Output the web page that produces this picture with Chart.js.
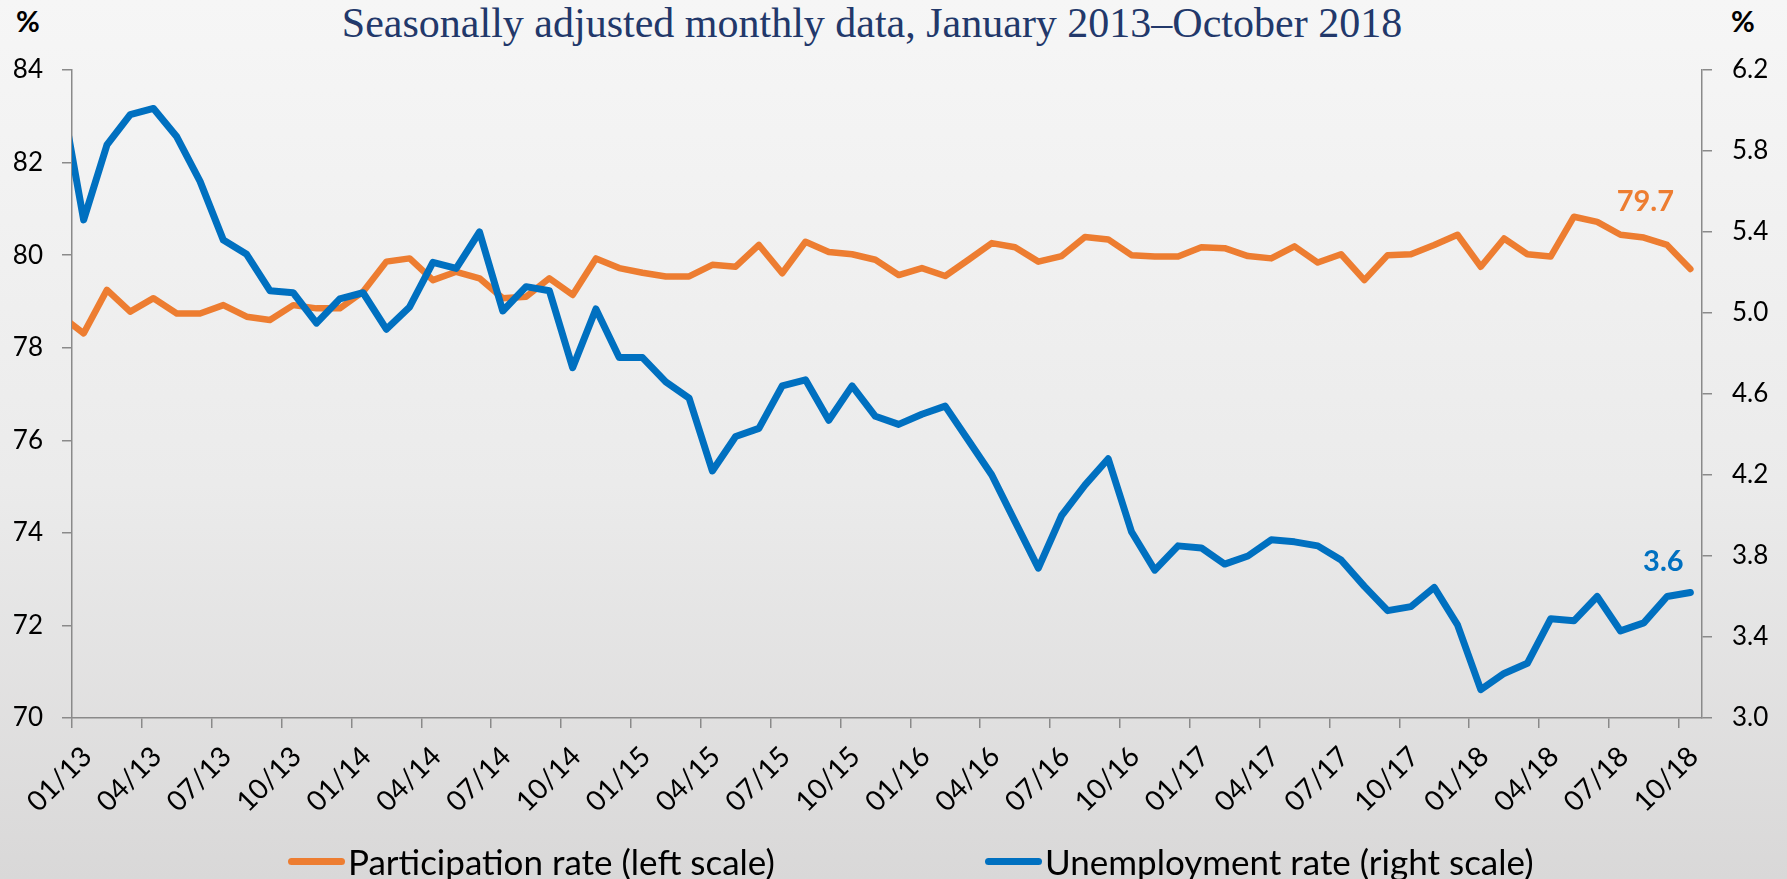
<!DOCTYPE html>
<html>
<head>
<meta charset="utf-8">
<script src="https://cdn.jsdelivr.net/npm/chart.js@4.4.1/dist/chart.umd.min.js"></script>
<style>
  html, body { margin: 0; padding: 0; }
  body {
    width: 1787px; height: 879px; overflow: hidden; position: relative;
    background: linear-gradient(to bottom, #f6f6f6 0%, #ebebeb 55%, #d9d8d8 100%);
    font-family: Lato, sans-serif; color: #000;
  }
  #chart { position: absolute; left: 0; top: 0; }
  .title {
    position: absolute; top: 0px; left: 0; width: 1744px; text-align: center;
    font-family: 'Liberation Serif', serif; font-size: 42px; line-height: 46px; color: #22386a;
  }
  .pct { position: absolute; top: 6px; font-weight: bold; font-size: 29px; line-height: 29px; }
  .legend-item { position: absolute; top: 840px; display: flex; align-items: center; font-size: 35px; line-height: 42px; }
  .legend-item span.swatch { display: inline-block; width: 57px; height: 7px; border-radius: 4px; margin-right: 3px; }
</style>
</head>
<body>
<div class="title">Seasonally adjusted monthly data, January 2013–October 2018</div>
<div class="pct" style="left:16px">%</div>
<div class="pct" style="left:1731px">%</div>
<canvas id="chart" width="1787" height="879"></canvas>
<div class="legend-item" id="leg0" style="left:288px"></div>
<div class="legend-item" id="leg1" style="left:985px"></div>
<script>
// months plotted (Dec 2012 sits just left of the axis and is clipped, as in the original)
let months = [
  '12/12',
  '01/13', '02/13', '03/13', '04/13', '05/13', '06/13', '07/13', '08/13', '09/13', '10/13', '11/13', '12/13',
  '01/14', '02/14', '03/14', '04/14', '05/14', '06/14', '07/14', '08/14', '09/14', '10/14', '11/14', '12/14',
  '01/15', '02/15', '03/15', '04/15', '05/15', '06/15', '07/15', '08/15', '09/15', '10/15', '11/15', '12/15',
  '01/16', '02/16', '03/16', '04/16', '05/16', '06/16', '07/16', '08/16', '09/16', '10/16', '11/16', '12/16',
  '01/17', '02/17', '03/17', '04/17', '05/17', '06/17', '07/17', '08/17', '09/17', '10/17', '11/17', '12/17',
  '01/18', '02/18', '03/18', '04/18', '05/18', '06/18', '07/18', '08/18', '09/18', '10/18'
];

let tickLabels = [
  '01/13', '04/13', '07/13', '10/13', '01/14', '04/14', '07/14', '10/14',
  '01/15', '04/15', '07/15', '10/15', '01/16', '04/16', '07/16', '10/16',
  '01/17', '04/17', '07/17', '10/17', '01/18', '04/18', '07/18', '10/18'
];

let participation = [
  78.7,
  78.31, 79.25, 78.78, 79.07, 78.74, 78.74, 78.92, 78.67, 78.60, 78.92, 78.85, 78.85,
  79.21, 79.86, 79.93, 79.46, 79.64, 79.50, 79.07, 79.10, 79.50, 79.14, 79.93, 79.72,
  79.62, 79.54, 79.54, 79.79, 79.75, 80.22, 79.61, 80.29, 80.07, 80.02, 79.90, 79.57,
  79.72, 79.55, 79.90, 80.26, 80.17, 79.86, 79.98, 80.39, 80.34, 80.00, 79.97, 79.97,
  80.17, 80.15, 79.98, 79.93, 80.19, 79.84, 80.02, 79.46, 80.00, 80.02, 80.22, 80.44,
  79.75, 80.36, 80.02, 79.97, 80.83, 80.72, 80.44, 80.38, 80.22, 79.70
];

let unemployment = [
  6.10,
  5.46, 5.83, 5.98, 6.01, 5.87, 5.65, 5.36, 5.29, 5.11, 5.10, 4.95, 5.07,
  5.10, 4.92, 5.03, 5.25, 5.22, 5.40, 5.01, 5.13, 5.11, 4.73, 5.02, 4.78,
  4.78, 4.66, 4.58, 4.22, 4.39, 4.43, 4.64, 4.67, 4.47, 4.64, 4.49, 4.45,
  4.50, 4.54, 4.37, 4.20, 3.97, 3.74, 4.00, 4.15, 4.28, 3.92, 3.73, 3.85,
  3.84, 3.76, 3.80, 3.88, 3.87, 3.85, 3.78, 3.65, 3.53, 3.55, 3.645, 3.46,
  3.14, 3.22, 3.27, 3.49, 3.48, 3.60, 3.43, 3.47, 3.60, 3.62
];

let seriesNames = ['Participation rate (left scale)', 'Unemployment rate (right scale)'];
let seriesColors = ['#ed7d31', '#0070c0'];

// each month is plotted at its middle, x = 0 is the start of 01/13
function toPoints(values) {
  return values.map((v, i) => ({ x: i - 0.5, y: v, month: months[i] }));
}

/*value labels at the end of each line*/
let endLabels = {
  id: 'endLabels',
  afterDatasetsDraw(chart) {
    let offsets = [[-45, -67], [-27, -31]];
    let ctx = chart.ctx;
    chart.data.datasets.forEach(function(ds, i) {
      let meta = chart.getDatasetMeta(i);
      let last = meta.data[meta.data.length - 1];
      let value = ds.data[ds.data.length - 1].y;
      ctx.save();
      ctx.font = 'bold 29px Lato';
      ctx.fillStyle = ds.borderColor;
      ctx.textAlign = 'center';
      ctx.textBaseline = 'middle';
      ctx.fillText(value.toFixed(1), last.x + offsets[i][0], last.y + offsets[i][1]);
      ctx.restore();
    });
  }
};

let axisColor = '#8a8a8a';
let tickFont = { family: 'Lato', size: 26 };

let chart = new Chart(document.getElementById('chart'), {
  type: 'line',
  data: {
    datasets: [{
      label: seriesNames[0],
      data: toPoints(participation),
      borderColor: seriesColors[0],
      backgroundColor: seriesColors[0],
      borderWidth: 6.5,
      pointRadius: 0,
      borderJoinStyle: 'round',
      borderCapStyle: 'round',
      yAxisID: 'yL',
      clip: 0,
      order: 2
    }, {
      label: seriesNames[1],
      data: toPoints(unemployment),
      borderColor: seriesColors[1],
      backgroundColor: seriesColors[1],
      borderWidth: 7,
      pointRadius: 0,
      borderJoinStyle: 'round',
      borderCapStyle: 'round',
      yAxisID: 'yR',
      clip: 0,
      order: 1
    }]
  },
  options: {
    responsive: false,
    animation: false,
    layout: { padding: { top: 70, left: 0, right: 0, bottom: 0 } },
    plugins: {
      legend: { display: false },
      tooltip: { enabled: false }
    },
    scales: {
      x: {
        type: 'linear',
        min: 0,
        max: 70,
        afterBuildTicks: function(axis) {
          axis.ticks = tickLabels.map((t, k) => ({ value: k * 3 }));
        },
        afterFit: function(axis) { axis.height = 161; },
        border: { display: true, color: axisColor, width: 1.5 },
        grid: { drawOnChartArea: false, tickLength: 10, color: axisColor, lineWidth: 1.5 },
        ticks: {
          autoSkip: false,
          minRotation: 45,
          maxRotation: 45,
          padding: 12,
          labelOffset: 15,
          color: '#000',
          font: { family: 'Lato', size: 28 },
          callback: function(value, index) { return tickLabels[index]; }
        }
      },
      yL: {
        position: 'left',
        min: 70,
        max: 84,
        afterFit: function(axis) { axis.width = 72; },
        border: { display: true, color: axisColor, width: 1.5 },
        grid: { drawOnChartArea: false, tickLength: 10, color: axisColor, lineWidth: 1.5 },
        ticks: { stepSize: 2, padding: 19, color: '#000', font: tickFont }
      },
      yR: {
        position: 'right',
        min: 3,
        max: 6.2,
        afterFit: function(axis) { axis.width = 85; },
        border: { display: true, color: axisColor, width: 1.5 },
        grid: { drawOnChartArea: false, tickLength: 10, color: axisColor, lineWidth: 1.5 },
        ticks: {
          stepSize: 0.4,
          padding: 20,
          color: '#000',
          font: tickFont,
          callback: function(value) { return value.toFixed(1); }
        }
      }
    }
  },
  plugins: [endLabels]
});

/*html legend built from the datasets*/
chart.data.datasets.forEach(function(ds, i) {
  let item = document.getElementById('leg' + i);
  let swatch = document.createElement('span');
  swatch.className = 'swatch';
  swatch.style.background = ds.borderColor;
  item.appendChild(swatch);
  item.appendChild(document.createTextNode(ds.label));
});
</script>
</body>
</html>
